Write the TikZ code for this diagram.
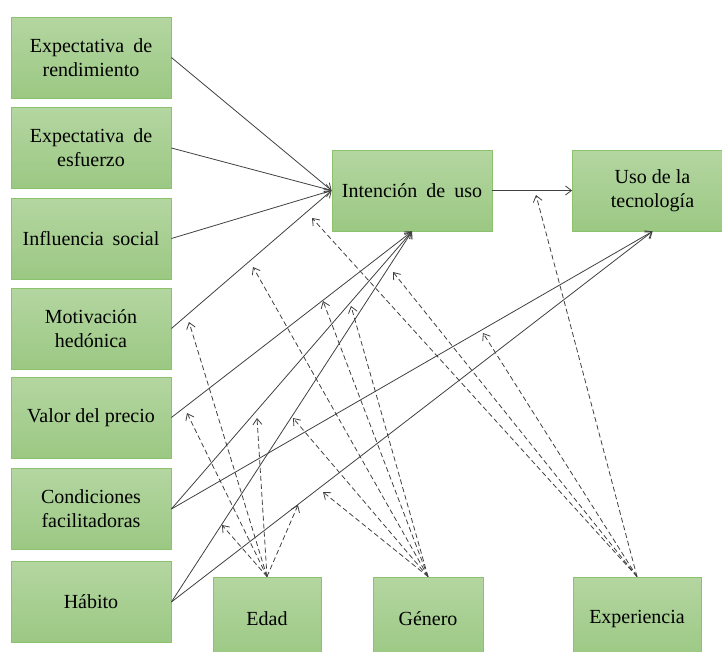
\documentclass[tikz,border=0pt]{standalone}
\usepackage{fontspec}
\setmainfont{LiberationSerif}[Extension=.ttf, UprightFont=*-Regular, BoldFont=*-Bold]
\usetikzlibrary{arrows.meta,shadings}

\definecolor{boxtop}{HTML}{B4D6A1}
\definecolor{boxbot}{HTML}{9BC883}
\definecolor{boxedge}{HTML}{8CC26E}
\definecolor{ink}{HTML}{404040}

% justified (wider) word space used in some labels
\newcommand\wsp{\hspace{0.45em}}

\tikzset{
  construct/.style={draw=boxedge, line width=0.8pt, top color=boxtop, bottom color=boxbot,
    minimum width=160pt, minimum height=81pt, inner sep=0pt, align=center,
    font=\fontsize{20}{24}\selectfont},
  moderator/.style={construct, minimum height=83pt},
  effect/.style={draw=ink, line width=0.8pt, -{Straight Barb[length=6pt,width=9pt]}},
  moderation/.style={effect, dash pattern=on 5pt off 3pt}
}

\begin{document}
\begin{tikzpicture}[x=1pt, y=-1pt]
\useasboundingbox (0,0) rectangle (722,651);

% predictors
\node[construct] (pe) at (91,57.5)  {Expectativa\wsp de\\rendimiento};
\node[construct] (ee) at (91,148)   {Expectativa\wsp de\\esfuerzo};
\node[construct] (si) at (91,238.5) {Influencia\wsp social};
\node[construct] (hm) at (91,328.5) {Motivación\\hedónica};
\node[construct] (pv) at (91,417.5) {Valor del precio};
\node[construct] (fc) at (91,509)   {Condiciones\\facilitadoras};
\node[construct] (ht) at (91,602)   {Hábito};

% outcomes
\node[construct] (bi) at (412,190.5) {Intención\wsp de\wsp uso};
\node[construct] (ub) at (652.5,190.5) {Uso de la\\tecnología};

% moderators
\node[moderator, minimum width=108pt] (age) at (267,618.5) {Edad};
\node[moderator, minimum width=110pt] (gen) at (428,618.5) {Género};
\node[moderator, minimum width=128pt] (exp) at (637,618.5) {Experiencia};

% direct effects
\draw[effect] (pe.east) -- (bi.west);
\draw[effect] (ee.east) -- (bi.west);
\draw[effect] (si.east) -- (bi.west);
\draw[effect] (hm.east) -- (bi.west);
\draw[effect] (pv.east) -- (bi.south);
\draw[effect] (fc.east) -- (bi.south);
\draw[effect] (ht.east) -- (bi.south);
\draw[effect] (fc.east) -- (ub.south);
\draw[effect] (ht.east) -- (ub.south);
\draw[effect] (bi.east) -- (ub.west);

% targets of the moderating effects
\coordinate (age-hm)  at (189,322);
\coordinate (age-pv)  at (187,413);
\coordinate (age-fc)  at (257,418);
\coordinate (age-ht)  at (222,525);
\coordinate (age-htu) at (298,505);
\coordinate (gen-hm)  at (253,267);
\coordinate (gen-pv)  at (323,301);
\coordinate (gen-fc)  at (351,306);
\coordinate (gen-ht)  at (293,418);
\coordinate (gen-htu) at (323,492);
\coordinate (exp-hm)  at (312,218);
\coordinate (exp-ht)  at (393,272);
\coordinate (exp-fcu) at (483,333);
\coordinate (exp-bi)  at (536,195);

% moderating effects
\foreach \t in {hm,pv,fc,ht,htu} {
  \draw[moderation] (age.north) -- (age-\t);
  \draw[moderation] (gen.north) -- (gen-\t);
}
\foreach \t in {hm,ht,fcu,bi} {
  \draw[moderation] (exp.north) -- (exp-\t);
}
\end{tikzpicture}
\end{document}
